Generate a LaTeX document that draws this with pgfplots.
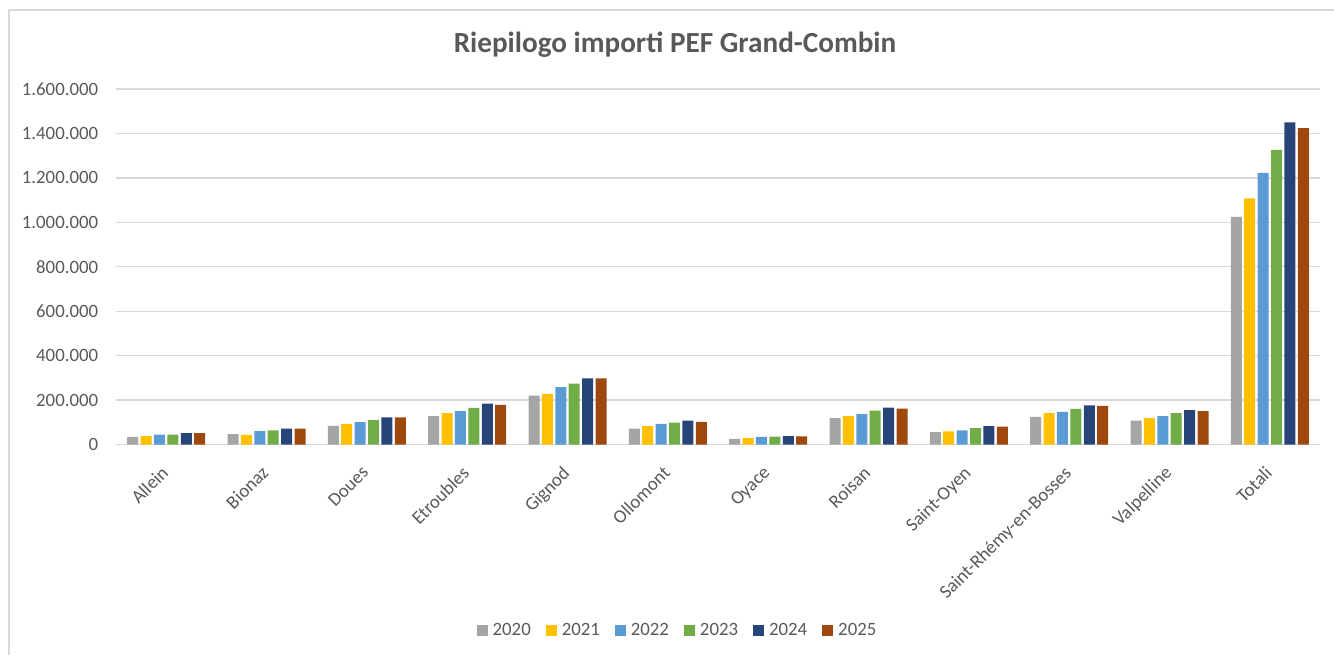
\documentclass[border=0pt]{standalone}
\usepackage{fontspec}
\setmainfont{Carlito}
\usepackage{pgfplots}
\usepackage{pgfplotstable}
\pgfplotsset{compat=1.18}
\definecolor{c2020}{HTML}{A5A5A5}
\definecolor{c2021}{HTML}{FFC000}
\definecolor{c2022}{HTML}{5B9BD5}
\definecolor{c2023}{HTML}{70AD47}
\definecolor{c2024}{HTML}{264478}
\definecolor{c2025}{HTML}{9E480E}
\definecolor{txt}{HTML}{595959}
\definecolor{gridc}{HTML}{D9D9D9}

\pgfplotstableread{
x y20 y21 y22 y23 y24 y25
0 34000 38000 45000 45000 51000 51000
1 47000 43000 60000 64000 72000 72000
2 84000 93000 101000 110000 122000 122000
3 128000 141000 150000 165000 184000 178000
4 220000 228000 258000 274000 298000 298000
5 72000 83000 93000 98000 107000 102000
6 25000 29000 34000 36000 38000 37000
7 119000 128000 137000 153000 166000 162000
8 56000 59000 64000 74000 83000 80000
9 124000 141000 147000 160000 176000 174000
10 107000 119000 128000 141000 155000 150000
11 1024000 1108000 1222000 1326000 1450000 1424000
}\datatable

\begin{document}
\begin{tikzpicture}
\path[use as bounding box] (0pt,0pt) rectangle (667pt,327.5pt);
\draw[gridc, line width=0.7pt] (4.5pt,0pt) -- (4.5pt,322.5pt) -- (667pt,322.5pt);
\node[font=\fontsize{14.6}{17}\selectfont\bfseries, text=txt] at (337.5pt,305pt) {Riepilogo importi PEF Grand-Combin};
\begin{axis}[
  at={(58pt,105.25pt)}, anchor=south west,
  scale only axis, width=602pt, height=177.75pt,
  ybar=1.2pt, bar width=5.5pt,
  xmin=-0.5, xmax=11.5, ymin=0, ymax=1600000,
  xtick={0,...,11},
  xticklabels={Allein,Bionaz,Doues,Etroubles,Gignod,Ollomont,Oyace,Roisan,Saint-Oyen,Saint-Rhémy-en-Bosses,Valpelline,Totali},
  ytick={0,200000,...,1600000},
  scaled y ticks=false,
  /pgf/number format/assume math mode=true,
  /pgf/number format/fixed,
  /pgf/number format/1000 sep={.},
  ymajorgrids, grid style={gridc, line width=0.65pt},
  axis line style={draw=none},
  major tick length=0pt,
  tick label style={font=\fontsize{9.4}{11}\selectfont, text=txt},
  yticklabel style={xshift=-5.4pt},
  xticklabel style={xshift=-3pt, yshift=-10pt, rotate=45, anchor=north east, inner sep=0pt},
  legend style={at={(0.4676,-0.5246)}, anchor=center, legend columns=6, draw=none, fill=none,
    font=\fontsize{9.4}{11}\selectfont, text=txt,
    /tikz/every even column/.style={column sep=5pt},
    nodes={inner xsep=2.5pt}},
  legend image code/.code={\path[#1] (0pt,-2.75pt) rectangle (5.5pt,2.75pt);},
]
\addplot[fill=c2020, draw=none] table[x=x,y=y20]{\datatable};
\addplot[fill=c2021, draw=none] table[x=x,y=y21]{\datatable};
\addplot[fill=c2022, draw=none] table[x=x,y=y22]{\datatable};
\addplot[fill=c2023, draw=none] table[x=x,y=y23]{\datatable};
\addplot[fill=c2024, draw=none] table[x=x,y=y24]{\datatable};
\addplot[fill=c2025, draw=none] table[x=x,y=y25]{\datatable};
\legend{2020,2021,2022,2023,2024,2025}
\end{axis}
\end{tikzpicture}
\end{document}
